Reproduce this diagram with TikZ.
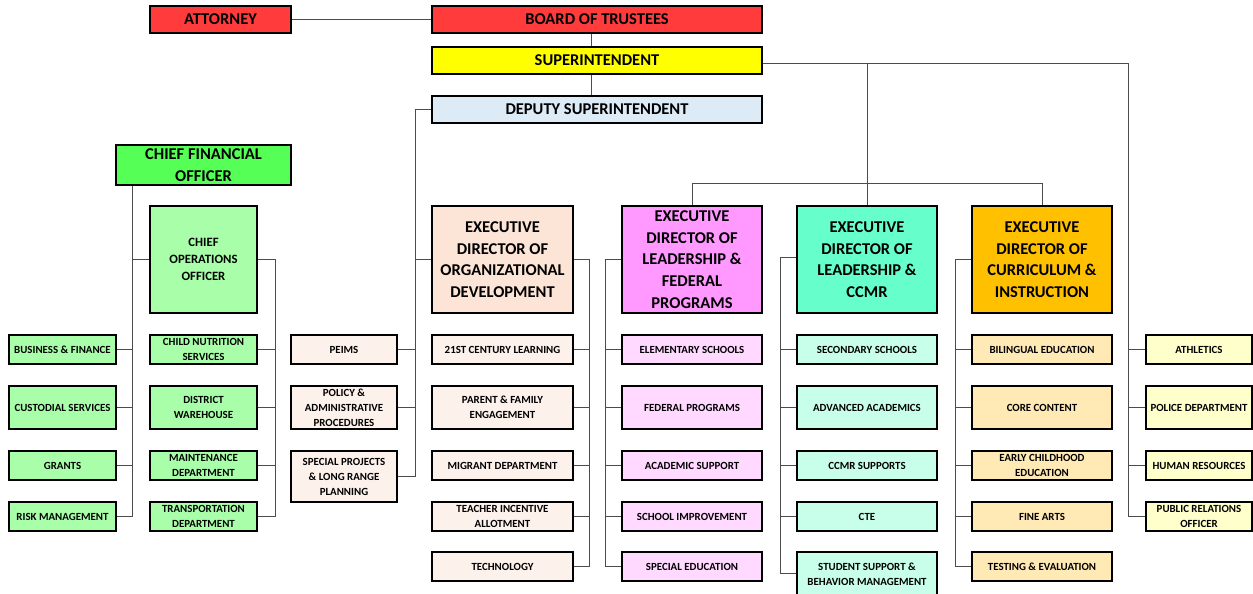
\documentclass[tikz,border=0pt]{standalone}
\usepackage{fontspec}
\setmainfont{Carlito}
\usetikzlibrary{shadows}
\definecolor{redc}{RGB}{255,59,59}
\definecolor{yelc}{RGB}{255,255,0}
\definecolor{depc}{RGB}{221,235,247}
\definecolor{cfoc}{RGB}{85,255,85}
\definecolor{grnc}{RGB}{169,255,169}
\definecolor{odx}{RGB}{252,228,214}
\definecolor{odc}{RGB}{253,241,236}
\definecolor{lfx}{RGB}{255,153,255}
\definecolor{lfc}{RGB}{255,217,255}
\definecolor{ccx}{RGB}{102,255,204}
\definecolor{ccc}{RGB}{199,255,234}
\definecolor{cix}{RGB}{255,192,0}
\definecolor{cic}{RGB}{255,233,181}
\definecolor{rtc}{RGB}{255,255,204}
\newcommand\mybox[7]{\node[#6,minimum width={(#4-#2)*1pt},minimum height={(#5-#3)*1pt}] (#1) at ({(#2+#4)/2},{(#3+#5)/2}) {#7};}
\tikzset{
  box/.style={draw=black, line width=1.2pt, align=center, inner sep=0pt,
    drop shadow={shadow xshift=1.2pt,shadow yshift=-1.2pt,fill=black!30},
    font=\bfseries\fontsize{10.9}{15}\selectfont},
  big/.style={box, font=\bfseries\fontsize{16.5}{21.7}\selectfont},
  mid/.style={box, font=\bfseries\fontsize{12.7}{17}\selectfont},
  conn/.style={draw=black!70, line width=1pt},
}
\begin{document}
\begin{tikzpicture}[x=1pt,y=-1pt]
\useasboundingbox (0,0) rectangle (1253,594);
\fill[white] (0,0) rectangle (1253,594);
% top
\mybox{att}{150}{6}{291}{33}{big,fill=redc}{ATTORNEY}
\mybox{board}{432}{6}{762}{33}{big,fill=redc}{BOARD OF TRUSTEES}
\mybox{sup}{432}{47}{762}{74}{big,fill=yelc}{SUPERINTENDENT}
\mybox{dep}{432}{96}{762}{123}{big,fill=depc}{DEPUTY SUPERINTENDENT}
\mybox{cfo}{116}{145}{291}{185}{big,fill=cfoc}{CHIEF FINANCIAL\\OFFICER}
% column 1
\mybox{bf}{9}{335}{116}{364}{box,fill=grnc}{BUSINESS \& FINANCE}
\mybox{cust}{9}{386}{116}{429}{box,fill=grnc}{CUSTODIAL SERVICES}
\mybox{grants}{9}{451}{116}{480}{box,fill=grnc}{GRANTS}
\mybox{risk}{9}{502}{116}{531}{box,fill=grnc}{RISK MANAGEMENT}
% column 2
\mybox{coo}{150}{206}{257}{313}{mid,fill=grnc}{CHIEF\\OPERATIONS\\OFFICER}
\mybox{cn}{150}{335}{257}{364}{box,fill=grnc}{CHILD NUTRITION\\SERVICES}
\mybox{dw}{150}{386}{257}{429}{box,fill=grnc}{DISTRICT\\WAREHOUSE}
\mybox{md}{150}{451}{257}{480}{box,fill=grnc}{MAINTENANCE\\DEPARTMENT}
\mybox{td}{150}{502}{257}{531}{box,fill=grnc}{TRANSPORTATION\\DEPARTMENT}
% column 3
\mybox{peims}{291}{335}{397}{364}{box,fill=odc}{PEIMS}
\mybox{pol}{291}{386}{397}{429}{box,fill=odc}{POLICY \&\\ADMINISTRATIVE\\PROCEDURES}
\mybox{spec}{291}{451}{397}{502}{box,fill=odc}{SPECIAL PROJECTS\\\& LONG RANGE\\PLANNING}
% OD
\mybox{od}{432}{206}{573}{313}{big,fill=odx}{EXECUTIVE\\DIRECTOR OF\\ORGANIZATIONAL\\DEVELOPMENT}
\mybox{od1}{432}{335}{573}{364}{box,fill=odc}{21ST CENTURY LEARNING}
\mybox{od2}{432}{386}{573}{429}{box,fill=odc}{PARENT \& FAMILY\\ENGAGEMENT}
\mybox{od3}{432}{451}{573}{480}{box,fill=odc}{MIGRANT DEPARTMENT}
\mybox{od4}{432}{502}{573}{531}{box,fill=odc}{TEACHER INCENTIVE\\ALLOTMENT}
\mybox{od5}{432}{552}{573}{581}{box,fill=odc}{TECHNOLOGY}
% LFP
\mybox{lf}{622}{206}{762}{313}{big,fill=lfx}{EXECUTIVE\\DIRECTOR OF\\LEADERSHIP \&\\FEDERAL\\PROGRAMS}
\mybox{lf1}{622}{335}{762}{364}{box,fill=lfc}{ELEMENTARY SCHOOLS}
\mybox{lf2}{622}{386}{762}{429}{box,fill=lfc}{FEDERAL PROGRAMS}
\mybox{lf3}{622}{451}{762}{480}{box,fill=lfc}{ACADEMIC SUPPORT}
\mybox{lf4}{622}{502}{762}{531}{box,fill=lfc}{SCHOOL IMPROVEMENT}
\mybox{lf5}{622}{552}{762}{581}{box,fill=lfc}{SPECIAL EDUCATION}
% CCMR
\mybox{cc}{797}{206}{937}{313}{big,fill=ccx}{EXECUTIVE\\DIRECTOR OF\\LEADERSHIP \&\\CCMR}
\mybox{cc1}{797}{335}{937}{364}{box,fill=ccc}{SECONDARY SCHOOLS}
\mybox{cc2}{797}{386}{937}{429}{box,fill=ccc}{ADVANCED ACADEMICS}
\mybox{cc3}{797}{451}{937}{480}{box,fill=ccc}{CCMR SUPPORTS}
\mybox{cc4}{797}{502}{937}{531}{box,fill=ccc}{CTE}
\mybox{cc5}{797}{552}{937}{596}{box,fill=ccc}{STUDENT SUPPORT \&\\BEHAVIOR MANAGEMENT}
% C&I
\mybox{ci}{972}{206}{1112}{313}{big,fill=cix}{EXECUTIVE\\DIRECTOR OF\\CURRICULUM \&\\INSTRUCTION}
\mybox{ci1}{972}{335}{1112}{364}{box,fill=cic}{BILINGUAL EDUCATION}
\mybox{ci2}{972}{386}{1112}{429}{box,fill=cic}{CORE CONTENT}
\mybox{ci3}{972}{451}{1112}{480}{box,fill=cic}{EARLY CHILDHOOD\\EDUCATION}
\mybox{ci4}{972}{502}{1112}{531}{box,fill=cic}{FINE ARTS}
\mybox{ci5}{972}{552}{1112}{581}{box,fill=cic}{TESTING \& EVALUATION}
% right
\mybox{r1}{1146}{335}{1252}{364}{box,fill=rtc}{ATHLETICS}
\mybox{r2}{1146}{386}{1252}{429}{box,fill=rtc}{POLICE DEPARTMENT}
\mybox{r3}{1146}{451}{1252}{480}{box,fill=rtc}{HUMAN RESOURCES}
\mybox{r4}{1146}{502}{1252}{531}{box,fill=rtc}{PUBLIC RELATIONS\\OFFICER}
% spine coordinates
\coordinate (xr) at (1128,0);
\coordinate (xdep) at (415,0);
\coordinate (xcfo) at (132,0);
\coordinate (xcoo) at (275,0);
\coordinate (xod) at (589,0);
\coordinate (xlf) at (605,0);
\coordinate (xcc) at (780,0);
\coordinate (xci) at (955,0);
\coordinate (hy) at (0,183);
% connectors
\draw[conn] (att.east) -- (board.west);
\draw[conn] ([xshift=-6pt]board.south) -- ([xshift=-6pt]sup.north);
\draw[conn] ([xshift=-6pt]sup.south) -- ([xshift=-6pt]dep.north);
\draw[conn] ([yshift=-3pt]sup.east) -- ([yshift=-3pt]sup.east -| xr) -- (xr |- r4.west) -- (r4.west);
\foreach \n in {r1,r2,r3} \draw[conn] (xr |- \n.west) -- (\n.west);
\draw[conn] ([yshift=-3pt]sup.east -| cc.north) -- (cc.north);
\draw[conn] (lf.north |- hy) -- (ci.north |- hy);
\draw[conn] (lf.north |- hy) -- (lf.north);
\draw[conn] (ci.north |- hy) -- (ci.north);
% deputy
\draw[conn] (dep.west) -- (xdep |- dep.west) -- (xdep |- spec.east) -- (spec.east);
\draw[conn] (xdep |- od.west) -- (od.west);
\draw[conn] (xdep |- peims.east) -- (peims.east);
\draw[conn] (xdep |- pol.east) -- (pol.east);
% cfo
\draw[conn] (xcfo |- cfo.south) -- (xcfo |- risk.east) -- (risk.east);
\draw[conn] (xcfo |- coo.west) -- (coo.west);
\foreach \n in {bf,cust,grants} \draw[conn] (xcfo |- \n.east) -- (\n.east);
% coo
\draw[conn] (coo.east) -- (xcoo |- coo.east) -- (xcoo |- td.east) -- (td.east);
\foreach \n in {cn,dw,md} \draw[conn] (xcoo |- \n.east) -- (\n.east);
% od
\draw[conn] (od.east) -- (xod |- od.east) -- (xod |- od5.east) -- (od5.east);
\foreach \n in {od1,od2,od3,od4} \draw[conn] (xod |- \n.east) -- (\n.east);
% lf
\draw[conn] (lf.west) -- (xlf |- lf.west) -- (xlf |- lf5.west) -- (lf5.west);
\foreach \n in {lf1,lf2,lf3,lf4} \draw[conn] (xlf |- \n.west) -- (\n.west);
% cc
\coordinate (cc5c) at (937,573);
\draw[conn] ([yshift=2pt]cc.west) -- ([yshift=2pt]cc.west -| xcc) -- (xcc |- cc5c) -- (cc5c -| cc5.west);
\foreach \n in {cc1,cc2,cc3,cc4} \draw[conn] (xcc |- \n.west) -- (\n.west);
% ci
\draw[conn] (ci.west) -- (xci |- ci.west) -- (xci |- ci5.west) -- (ci5.west);
\foreach \n in {ci1,ci2,ci3,ci4} \draw[conn] (xci |- \n.west) -- (\n.west);
\end{tikzpicture}
\end{document}
